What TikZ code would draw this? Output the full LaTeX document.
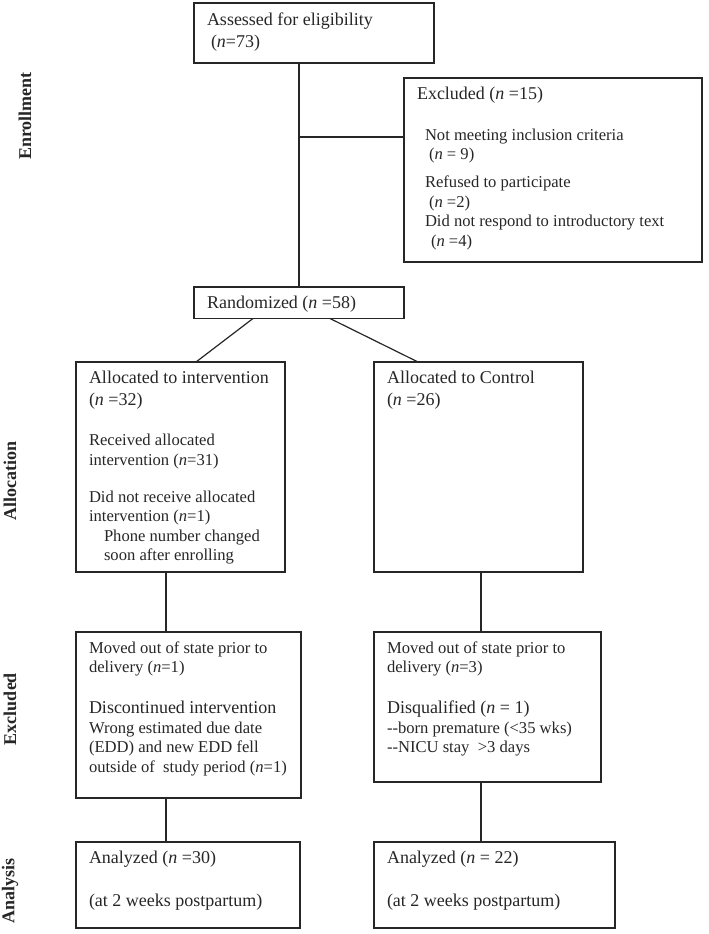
\documentclass[tikz,border=0pt]{standalone}
\usepackage{fontspec}
\setmainfont{Liberation Serif}
\newcommand{\hdtxt}{\fontsize{18}{22}\selectfont}
\newcommand{\smtxt}{\fontsize{16.6}{19.5}\selectfont}
\newcommand{\boxtext}[3]{\parbox[t][#2][t]{#1}{\leftskip=13pt\rightskip=0pt plus 1fil\relax#3}}
\begin{document}
\begin{tikzpicture}[x=1pt,y=-1pt,line width=1.2pt,color=black!85,
    box/.style={draw,anchor=north west,inner xsep=0pt,inner ysep=9.5pt,outer sep=0pt},
    lab/.style={rotate=90,font=\hdtxt\bfseries}]
\useasboundingbox (0,0) rectangle (709,934);
\node[lab] (enroll) at (25,116) {Enrollment};
\node[lab] (allocLab) at (10,481) {Allocation};
\node[lab] (exclLab) at (10,709) {Excluded};
\node[lab] (anaLab) at (10,891) {Analysis};
\node[box] (assess) at (194,3) {\boxtext{240pt}{41pt}{\hdtxt Assessed for eligibility\\ \hspace*{4pt}(\textit{n}=73)\par}};
\node[box] (excl) at (404,78) {\boxtext{298pt}{165pt}{{\hdtxt Excluded (\textit{n} =15)\par}\vspace{21pt}
    {\smtxt\hspace*{8pt}Not meeting inclusion criteria\\ \hspace*{12pt}(\textit{n} = 9)\par}\vspace{8.5pt}
    {\smtxt\hspace*{8pt}Refused to participate\\ \hspace*{12pt}(\textit{n} =2)\\ \hspace*{8pt}Did not respond to introductory text\\ \hspace*{14pt}(\textit{n} =4)\par}}};
\node[box] (rand) at (194,287) {\boxtext{210pt}{11pt}{\hdtxt Randomized (\textit{n} =58)\par}};
\node[box] (allocI) at (76,362) {\boxtext{209pt}{191pt}{{\hdtxt Allocated to intervention\\(\textit{n} =32)\par}\vspace{20.2pt}
    {\smtxt Received allocated\\intervention (\textit{n}=31)\par}\vspace{17.5pt}
    {\smtxt Did not receive allocated\\intervention (\textit{n}=1)\\ \hspace*{15pt}Phone number changed\\ \hspace*{15pt}soon after enrolling\par}}};
\node[box] (allocC) at (374,362) {\boxtext{209pt}{191pt}{\hdtxt Allocated to Control\\(\textit{n} =26)\par}};
\node[box] (exclI) at (76,632) {\boxtext{225pt}{147pt}{{\smtxt Moved out of state prior to\\delivery (\textit{n}=1)\par}\vspace{19.3pt}
    {\hdtxt Discontinued intervention\par}
    {\smtxt Wrong estimated due date\\(EDD) and new EDD fell\\outside of\ \ study period (\textit{n}=1)\par}}};
\node[box] (exclC) at (374,632) {\boxtext{227pt}{131pt}{{\smtxt Moved out of state prior to\\delivery (\textit{n}=3)\par}\vspace{19.3pt}
    {\hdtxt Disqualified (\textit{n} = 1)\par}
    {\smtxt -\kern0pt-born premature (<35 wks)\\-\kern0pt-NICU stay\ \ >3 days\par}}};
\node[box] (anaI) at (76,842) {\boxtext{224pt}{67pt}{\hdtxt Analyzed (\textit{n} =30)\\[21pt](at 2 weeks postpartum)\par}};
\node[box] (anaC) at (374,842) {\boxtext{241pt}{67pt}{\hdtxt Analyzed (\textit{n} = 22)\\[21pt](at 2 weeks postpartum)\par}};
\coordinate (trunk) at (299,0);
\coordinate (br) at (299,137);
\coordinate (colI) at (166,0);
\coordinate (colC) at (481,0);
\draw (assess.south -| trunk) -- (rand.north -| trunk);
\draw (br) -- (br -| excl.west);
\draw ([xshift=59pt]rand.south west) -- ([xshift=120pt]allocI.north west);
\draw ([xshift=136pt]rand.south west) -- ([xshift=44pt]allocC.north west);
\draw (allocI.south -| colI) -- (exclI.north -| colI);
\draw (exclI.south -| colI) -- (anaI.north -| colI);
\draw (allocC.south -| colC) -- (exclC.north -| colC);
\draw (exclC.south -| colC) -- (anaC.north -| colC);
\end{tikzpicture}
\end{document}
